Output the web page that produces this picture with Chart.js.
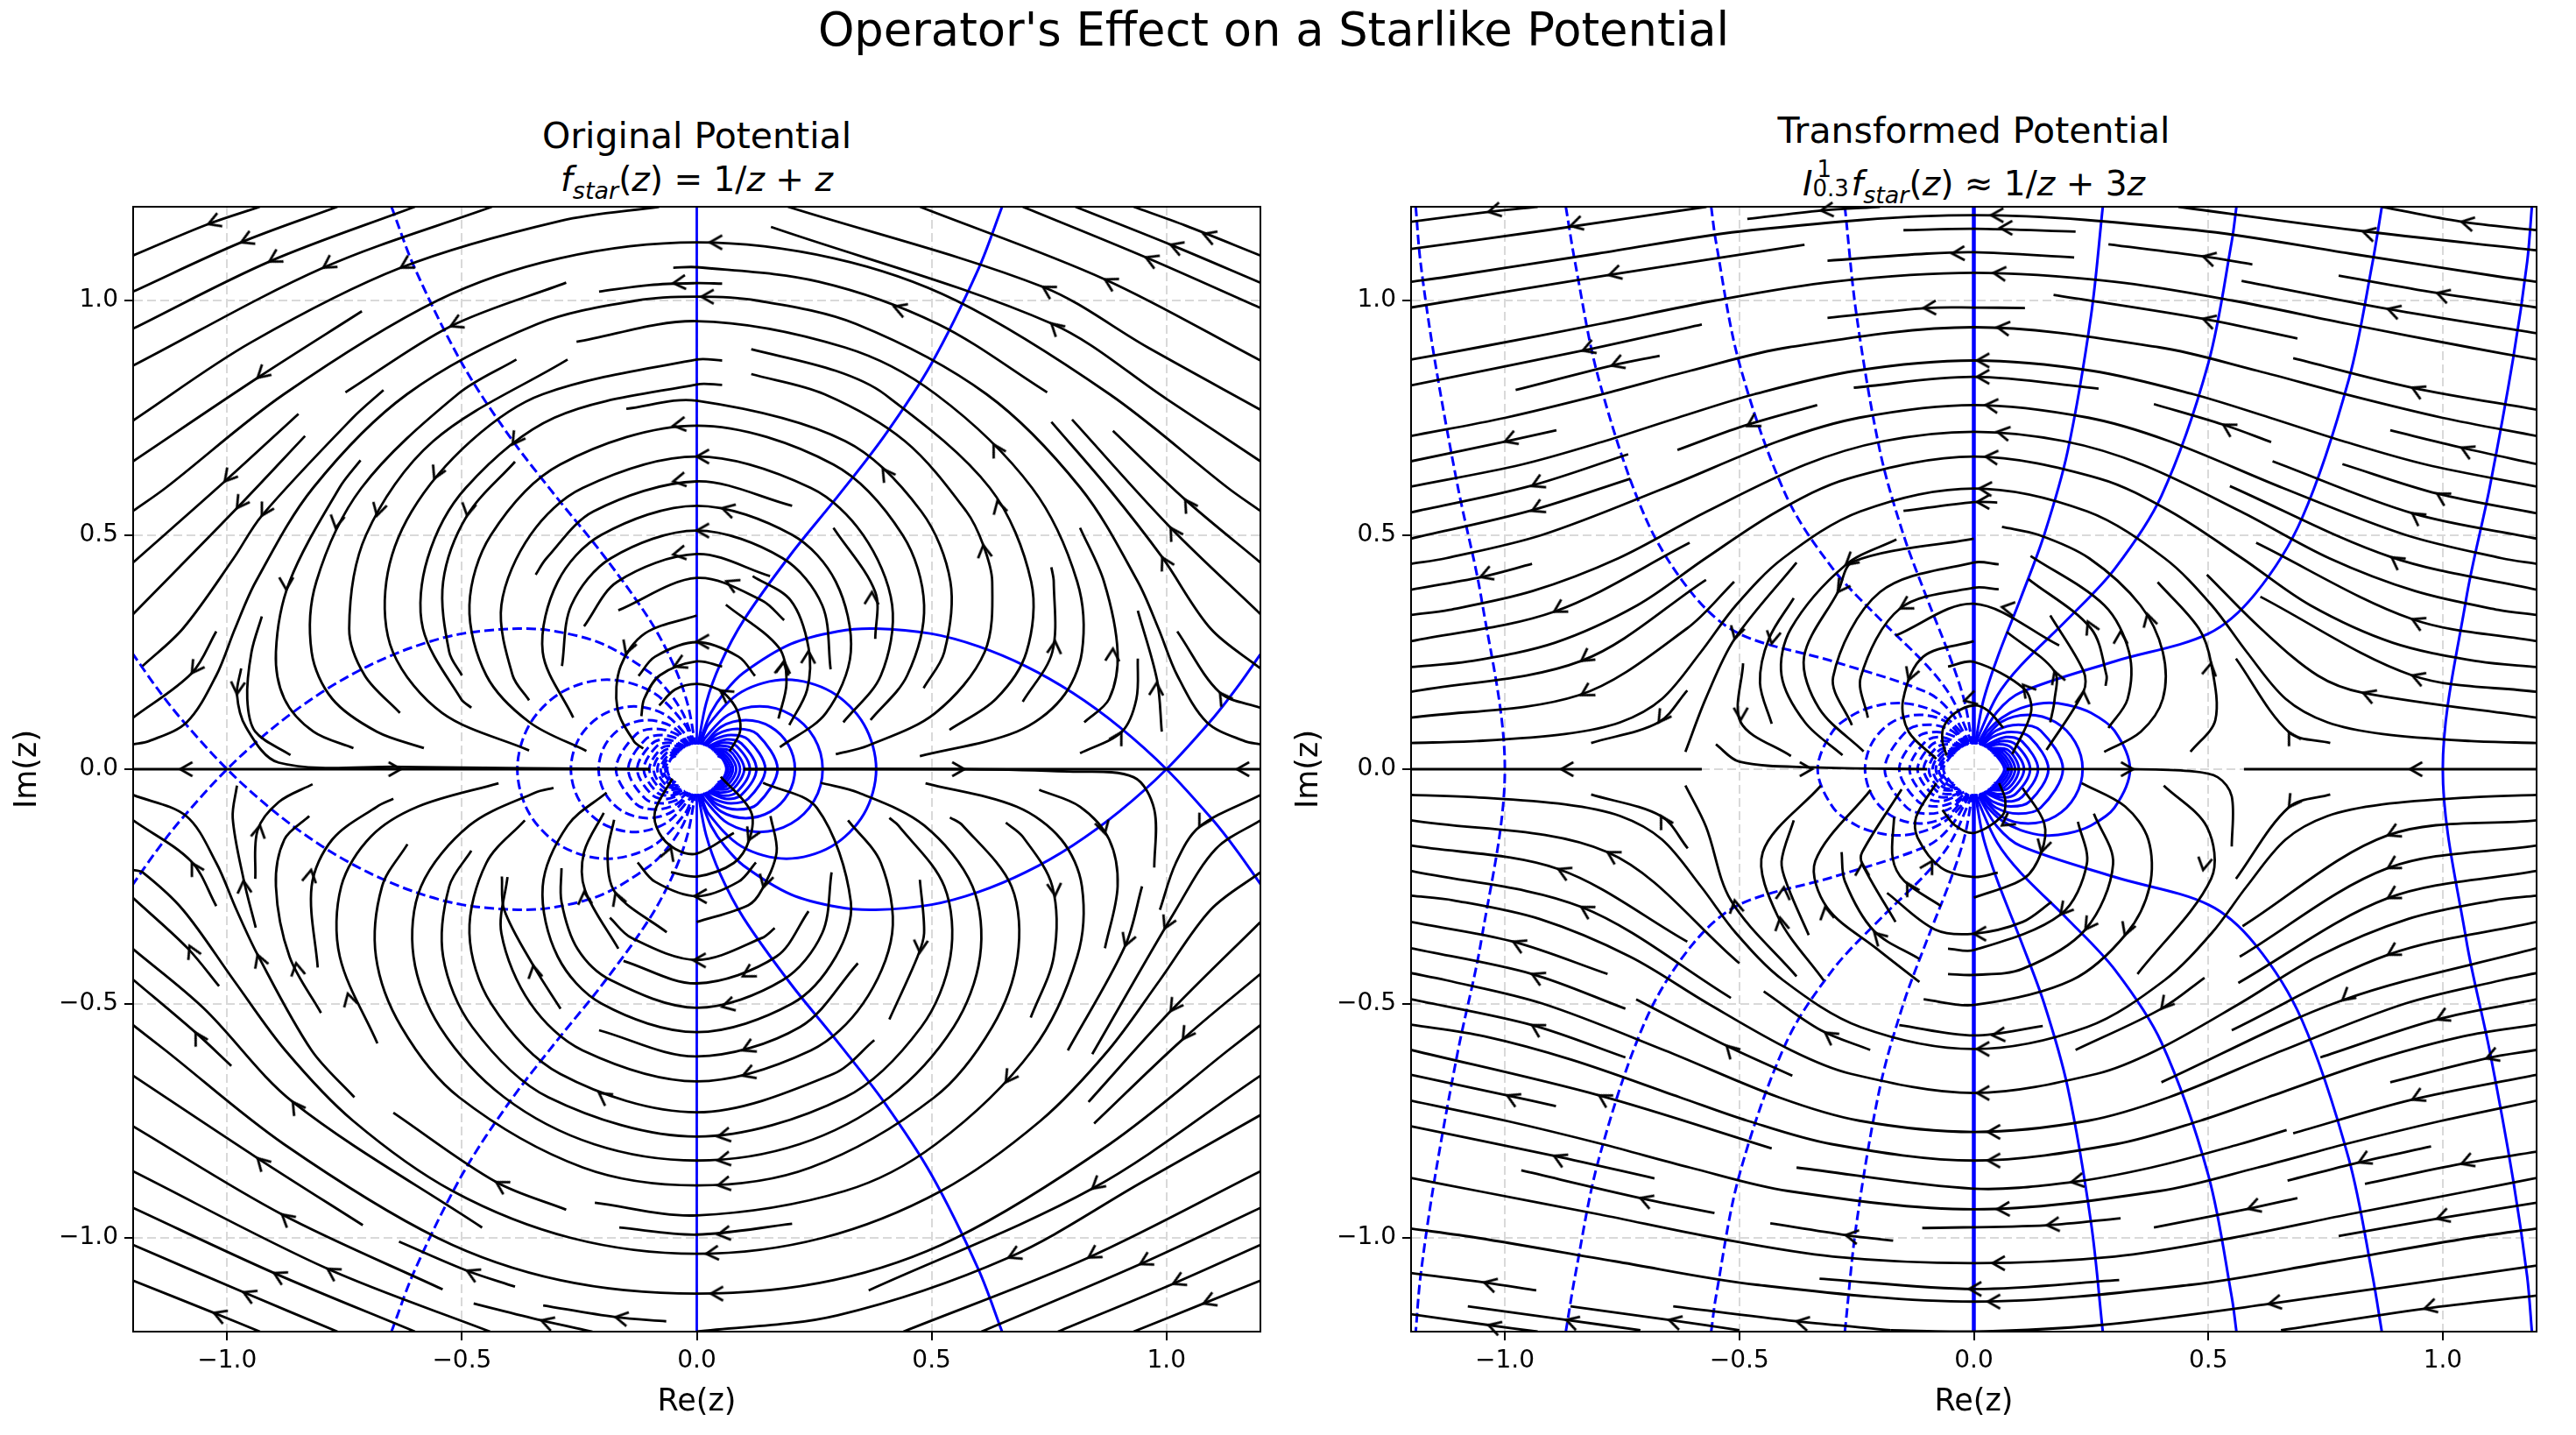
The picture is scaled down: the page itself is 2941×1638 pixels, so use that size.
<!DOCTYPE html>
<html>
<head>
<meta charset="utf-8">
<title>Operator's Effect on a Starlike Potential</title>
<script src="https://cdn.jsdelivr.net/npm/chart.js@4"></script>
<style>
  body { margin: 0; background: #fff; font-family: "DejaVu Sans", sans-serif; color: #000; }
  #page { position: relative; width: 2941px; height: 1638px; overflow: hidden; }
  canvas { position: absolute; top: 0; }
  .title { position: absolute; text-align: center; white-space: nowrap; line-height: 1; }
  #mainTitle { left: 0; width: 2908px; top: 8px; font-size: 52.7px; }
  .sub { font-size: 41px; }
  .math { font-size: 39px; }
  .math i { font-style: italic; }
  .math sub { font-size: 27px; line-height: 0; vertical-align: -9px; font-style: italic; }
  .stack { display: inline-block; position: relative; width: 44px; height: 38px; vertical-align: baseline; }
  .stack b { position: absolute; font-weight: normal; font-size: 26px; line-height: 1; }
</style>
</head>
<body>
<div id="page">
  <div id="mainTitle" class="title">Operator's Effect on a Starlike Potential</div>
  <div class="title sub" style="left:152px;width:1287px;top:135px">Original Potential</div>
  <div class="title math" style="left:152px;width:1287px;top:185px"><i>f<sub>star</sub></i>(<i>z</i>) = 1/<i>z</i> + <i>z</i></div>
  <div class="title sub" style="left:1611px;width:1285px;top:129px">Transformed Potential</div>
  <div class="title math" style="left:1611px;width:1285px;top:185px"><i>I</i><span class="stack"><b style="top:-5px;left:5px">1</b><b style="top:17px;left:0">0.3</b></span><i>f<sub>star</sub></i>(<i>z</i>) ≈ 1/<i>z</i> + 3<i>z</i></div>
  <canvas id="leftPanel" width="1470" height="1638" style="left:0"></canvas>
  <canvas id="rightPanel" width="1471" height="1638" style="left:1470px"></canvas>
</div>
<script>
const tickValues = [-1, -0.5, 0, 0.5, 1];

const leftStreamsUpper = [
  [-1.2,1.096,-1.04,1.163,-.93,1.2],
  [-1.2,1.019,-.97,1.124,-.765,1.2],
  [-1.2,.94,-.91,1.083,-.6,1.2],
  [-1.2,.861,-.795,1.07,-.436,1.2],
  [-1.2,.744,-.95,.91,-.63,1.07,-.29,1.17,-.08,1.2],
  [-1.2,.657,-.935,.835,-.713,.977],
  [-1.2,.551,-1.131,.6,-.879,.8,-.552,1,-.292,1.09,0,1.124,.292,1.09,.552,1,.879,.8,1.131,.6,1.2,.551],
  [-1.2,.441,-1.005,.614,-.848,.758],
  [-1.2,.331,-.979,.557,-.834,.711],
  [-1.18,.22,-1.094,.3,-.986,.45,-.926,.541,-.732,.75,-.667,.809],
  [.755,.741,.876,.6,.991,.452,1.094,.3,1.2,.215],
  [-.208,1.019,-.1,1.033,0,1.037,.054,1.036],
  [-.748,.804,-.524,.945,-.278,1.038],
  [-.05,1.07,0,1.071,.26,1.04,.513,.95,.746,.804],
  [-1.2,.053,-1.166,.06,-1.086,.1,-1.023,.2,-.983,.3,-.939,.4,-.817,.6,-.617,.8,-.339,.95,-.127,1,0,1.008,.127,1,.339,.95,.617,.8,.817,.6,.939,.4,.983,.3,1.023,.2,1.086,.1,1.166,.06,1.2,.053],
  [-1.2,.11,-1.075,.205,-1.023,.294],
  [1.023,.294,1.114,.163,1.2,.131],
  [-.926,.326,-.948,.25,-.957,.15,-.94,.08,-.865,.03],
  [-.716,.659,-.761,.6,-.867,.4,-.896,.25,-.878,.15,-.816,.08,-.731,.045],
  [-.97,.215,-.979,.16,-.96,.09,-.89,.014,-.63,.005,-.1,0],
  [-.384,.874,-.509,.8,-.714,.6,-.81,.4,-.82,.25,-.776,.15,-.681,.08,-.581,.045],
  [-.275,.874,-.561,.7,-.704,.5,-.74,.3,-.707,.2,-.632,.12],
  [-.256,.912,0,.956,.315,.9,.509,.8,.714,.6,.81,.4,.82,.25,.776,.15,.681,.08,.475,.028],
  [.054,.872,0,.874,-.328,.8,-.481,.7,-.607,.55,-.661,.4,-.647,.25,-.542,.12,-.357,.04],
  [.054,.82,0,.821,-.303,.75,-.492,.6,-.573,.45,-.583,.3,-.502,.15,-.48,.131],
  [-.15,.769,0,.786,.316,.7,.478,.55,.54,.4,.527,.25,.483,.173],
  [-.387,.656,-.489,.541,-.54,.4,-.527,.25,-.5,.2],
  [-.235,.039,-.356,.1,-.448,.2,-.484,.35,-.438,.5,-.291,.65,0,.733,.291,.65,.438,.5,.484,.35,.448,.2,.37,.105],
  [-.357,.147,-.392,.2,-.416,.35,-.354,.5,-.243,.6,0,.667,.243,.6,.354,.5,.416,.35,.392,.2,.312,.1],
  [-.343,.415,-.32,.45,-.22,.55,0,.614,.203,.562],
  [.291,.515,.38,.378,.38,.278],
  [-.263,.11,-.328,.25,-.296,.4,-.203,.5,0,.562,.203,.5,.296,.4,.328,.25,.275,.12,.177,.047],
  [-.287,.22,-.267,.35,-.183,.45,0,.509,.183,.45,.267,.35,.285,.213],
  [-.24,.305,-.169,.4,0,.459,.156,.412],
  [.119,.412,.2,.36,.238,.259,.235,.17,.197,.094],
  [-.167,.339,0,.408,.139,.36,.186,.318],
  [0,.328,-.11,.29,-.162,.22,-.169,.13,-.134,.06,-.114,.044],
  [.062,.351,.175,.259,.191,.184,.174,.108],
  [-.124,.199,-.089,.24,0,.271,.089,.24,.124,.199],
  [-.118,.113,-.112,.15,-.079,.2,0,.23,.054,.219],
  [-.08,.136,-.046,.17,0,.182,.046,.17,.07,.15,.088,.12,.092,.08,.07,.038],
  [.93,1.2,1.04,1.16,1.2,1.096],
  [.806,1.2,1.009,1.119,1.2,1.038],
  [.694,1.2,.956,1.092,1.2,.984],
  [.475,1.2,.869,1.045,1.2,.872],
  [.194,1.2,.737,1.029,.96,.9,1.2,.767],
  [.158,1.157,.755,.951,1,.79,1.2,.657],
  [.799,.746,1.009,.515,1.2,.331],
  [.886,.722,1.04,.575,1.2,.441],
  [.116,.843,.272,.8,.443,.7,.574,.55,.61,.478,.629,.4,.613,.25,.508,.12,.364,.05,.296,.032],
  [.116,.896,.296,.85,.4,.8,.624,.6,.712,.4,.702,.25,.637,.15,.538,.084],
  [.755,.431,.76,.4,.757,.25,.694,.144],
  [.816,.515,.867,.4,.896,.25,.878,.15,.825,.1],
  [.939,.236,.936,.15,.905,.08,.816,.034],
  [.939,.338,.98,.19,.99,.08],
  [-1.2,0,-.1,0],
  [.1,0,1.2,0]
];

const leftStreamsLower = [
  [-1.2,-1.091,-1.028,-1.16,-.93,-1.2],
  [-1.2,-1.015,-.965,-1.116,-.765,-1.2],
  [-1.2,-.936,-.9,-1.075,-.6,-1.2],
  [-1.2,-.858,-.786,-1.066,-.44,-1.2],
  [-1.2,-.762,-.883,-.95,-.541,-1.11],
  [-.475,-1.14,-.331,-1.176,-.222,-1.2],
  [-.327,-1.144,-.173,-1.169,-.065,-1.178],
  [-.634,-1.008,-.489,-1.07,-.387,-1.104],
  [-1.2,-.654,-.935,-.83,-.711,-.973],
  [-1.2,-.546,-1.131,-.6,-.879,-.8,-.552,-1,-.292,-1.09,0,-1.119,.292,-1.09,.552,-1,.879,-.8,1.131,-.6,1.2,-.546],
  [-1.2,-.449,-1.067,-.562,-.991,-.633],
  [-1.2,-.384,-1.05,-.51,-.86,-.71,-.457,-.978],
  [-1.2,-.275,-1.084,-.382,-1.017,-.463],
  [-1.2,-.215,-1.18,-.22,-1.094,-.3,-.986,-.45,-.876,-.6,-.732,-.75,-.52,-.9,-.268,-1,0,-1.034,.268,-1,.52,-.9,.732,-.75,.876,-.6,.986,-.45,1.094,-.3,1.2,-.22],
  [-1.2,-.109,-1.076,-.197,-1.023,-.292],
  [-1.2,-.055,-1.087,-.1,-1.023,-.2,-.98,-.3,-.935,-.396,-.82,-.6,-.729,-.7],
  [-.979,-.035,-.988,-.104,-.965,-.234,-.939,-.338],
  [-.94,-.234,-.935,-.13,-.89,-.07,-.818,-.032],
  [-.825,-.1,-.878,-.15,-.896,-.25,-.867,-.4,-.8,-.52],
  [-.646,-.063,-.681,-.08,-.776,-.15,-.82,-.25,-.807,-.423],
  [-.422,-.03,-.594,-.08,-.694,-.144,-.757,-.25,-.76,-.4,-.68,-.585],
  [-.646,-.733,-.427,-.881,-.278,-.94],
  [-.217,-.925,0,-.952,.315,-.9,.509,-.8,.714,-.6,.81,-.4,.82,-.25,.776,-.15,.681,-.08,.487,-.03],
  [-.616,-.16,-.67,-.25,-.683,-.4,-.629,-.55,-.506,-.7,-.242,-.85,0,-.888,.242,-.85,.506,-.7,.629,-.55,.683,-.4,.67,-.25,.566,-.12,.539,-.103],
  [-.305,-.04,-.344,-.05,-.484,-.12,-.587,-.25,-.603,-.4,-.547,-.55,-.41,-.7,-.219,-.8,0,-.835,.219,-.8,.41,-.7,.547,-.55,.603,-.4,.587,-.25,.484,-.12,.344,-.05,.264,-.029],
  [-.48,-.174,-.527,-.25,-.54,-.4,-.478,-.55,-.316,-.7,0,-.784,.316,-.7,.478,-.55,.54,-.4,.527,-.25,.429,-.12,.41,-.104],
  [-.366,-.109,-.448,-.2,-.484,-.35,-.438,-.5,-.291,-.65,0,-.732,.291,-.65,.378,-.578],
  [-.403,-.23,-.416,-.35,-.354,-.5,-.243,-.6,0,-.666,.243,-.6,.354,-.5,.416,-.35,.392,-.2,.322,-.109],
  [.475,-.236,.484,-.35,.47,-.4,.41,-.534],
  [-.208,-.557,0,-.613,.22,-.55,.343,-.414],
  [-.415,-.229,-.41,-.3,-.348,-.419,-.29,-.511],
  [-.192,-.05,-.275,-.12,-.328,-.25,-.296,-.4,-.203,-.5,0,-.561,.203,-.5,.296,-.4,.328,-.283,.256,-.083,.141,-.029],
  [-.288,-.211,-.288,-.283,-.254,-.383,-.183,-.45,0,-.509,.183,-.45,.267,-.35,.287,-.22],
  [-.156,-.409,0,-.457,.169,-.4,.238,-.303],
  [-.198,-.093,-.24,-.177,-.238,-.258,-.167,-.383],
  [-.185,-.317,-.139,-.36,0,-.407,.139,-.36,.166,-.339],
  [-.176,-.108,-.19,-.183,-.173,-.264,-.064,-.348],
  [0,-.326,.11,-.29,.138,-.258,.17,-.177,.157,-.1],
  [-.126,-.199,-.089,-.24,0,-.271,.089,-.24,.126,-.199],
  [-.055,-.22,0,-.229,.079,-.2,.112,-.15,.115,-.09,.051,-.016],
  [-.052,-.02,-.089,-.09,-.08,-.136,-.046,-.17,0,-.18,.079,-.136],
  [1.2,-.055,1.07,-.123,1.02,-.2,.986,-.3],
  [1.2,-.109,1.105,-.17,1.02,-.3,.842,-.608],
  [1.2,-.326,1.009,-.516,.834,-.71],
  [1.2,-.437,1.035,-.576,.846,-.756],
  [1.2,-.654,.842,-.895,.366,-1.112],
  [0,-1.2,.3,-1.165,.664,-1.042,.95,-.88,1.2,-.738],
  [1.2,-.858,.834,-1.042,.44,-1.2],
  [1.2,-.936,.944,-1.056,.606,-1.2],
  [1.2,-1.015,1.014,-1.098,.769,-1.2],
  [1.2,-1.091,1.079,-1.14,.93,-1.2],
  [-.165,-.978,0,-.993,.203,-.97],
  [.658,-.114,.694,-.144,.757,-.25,.76,-.4,.711,-.53],
  [.729,-.044,.816,-.08,.878,-.15,.896,-.25,.869,-.382],
  [.948,-.25,.912,-.377,.79,-.6],
  [.1,0,.57,0,.79,-.005,.93,-.017,.974,-.086,.974,-.21]
];

// x, y, heading in degrees (0 = right, 90 = down)
const leftArrows = [
  -1.04,1.163,159, -.97,1.124,156, -.91,1.083,150, -.795,1.07,147, -.63,1.07,150, -.935,.835,138, -1.005,.614,130,
  -.979,.557,125, -.926,.541,120, -.769,.515,100, -.681,.541,105, -.559,.62,115, -.489,.541,100, -.392,.693,125,
  -.874,.383,90, -.979,.16,95, -1.075,.205,125, -.151,.247,110, -.524,.945,155,
  .028,1.124,180, -.05,1.037,175, .01,1.008,180, -.05,.733,172, 0,.667,180, -.05,.614,170, .054,.557,195, 0,.509,180,
  -.05,.458,170, .063,.401,205, 0,.272,180, -.048,.219,155, .05,.168,215,
  .42,.987,200, .737,1.029,210, .755,.951,222, .869,1.045,208, .956,1.092,203, 1.009,1.119,200, 1.079,1.142,200,
  .632,.693,240, .396,.641,235, .64,.572,255, .61,.478,262, .373,.378,272, 1.04,.575,237, 1.009,.515,238, .991,.452,242,
  .763,.273,275, .886,.257,273, .979,.184,272, .904,.079,300, 1.114,.163,235, .238,.252,272, .186,.231,275, .185,.228,280,
  -1.1,0,180, -.63,0,0, .57,0,0, 1.15,0,180,
  -1.028,-1.16,201, -.965,-1.116,204, -.9,-1.075,207, -.786,-1.066,212, -.489,-1.07,205, -.883,-.95,220, -.935,-.83,225,
  -.86,-.71,235, -.427,-.881,210, -.331,-1.176,198, -.173,-1.169,190, -1.075,-.2,240, -.965,-.238,265, -.93,-.12,280,
  -.821,-.215,280, -1.08,-.377,245, -1.067,-.562,240, -.935,-.396,250, -.853,-.414,260, -.743,-.479,255, -.348,-.419,260,
  -.24,-.262,265, -.173,-.264,250, -.208,-.691,215, -.055,-.168,290,
  .03,-1.119,180, .045,-.993,172, .02,-1.034,175, .045,-.835,170, .045,-.888,170, .045,-.784,170, .098,-.654,160,
  .098,-.6,155, .054,-.507,165, .098,-.442,150, -.007,-.408,180, -.005,-.271,180, .142,-.252,105, .11,-.152,115,
  .475,-.391,95, .763,-.27,85, .869,-.137,75, 1.07,-.123,120, .996,-.34,115, .912,-.377,110, 1.009,-.516,125, 1.035,-.576,125,
  .658,-.668,125, .842,-.895,140, .664,-1.042,155, .834,-1.042,148, .944,-1.056,152, 1.014,-1.098,155, 1.079,-1.14,158
];

const leftSolid = [
  [0,.053,0,1.2],
  [0,-.053,0,-1.2],
  [.65,1.2,.6,1.068,.5,.866,.4,.712,.3,.582,.2,.458,.1,.318,.05,.224,.02,.141,.003,.053],
  [.65,-1.2,.6,-1.068,.5,-.866,.4,-.712,.3,-.582,.2,-.458,.1,-.318,.05,-.224,.02,-.141,.003,-.053],
  [.002,.053,.01,.07,.03,.12,.06,.165,.1,.206,.2,.267,.3,.294,.38,.3,.5,.289,.6,.262,.7,.22,.8,.163,.9,.09,1,0,1.1,-.11,1.15,-.174,1.2,-.245],
  [.002,-.053,.01,-.07,.03,-.12,.06,-.165,.1,-.206,.2,-.267,.3,-.294,.38,-.3,.5,-.289,.6,-.262,.7,-.22,.8,-.163,.9,-.09,1,0,1.1,.11,1.15,.174,1.2,.245],
  [.0074,.0525,.0256,.0955,.0955,.165,.191,.191,.2865,.165,.356,.0955,.382,0,.356,-.0955,.2865,-.165,.191,-.191,.0955,-.165,.0256,-.0955,.0074,-.0525],
  [.0105,.052,.018,.067,.067,.116,.134,.134,.201,.116,.25,.067,.268,0,.25,-.067,.201,-.116,.134,-.134,.067,-.116,.018,-.067,.0105,-.052],
  [.0134,.051,.052,.0905,.1045,.1045,.157,.0905,.195,.052,.209,0,.195,-.052,.157,-.0905,.1045,-.1045,.052,-.0905,.0134,-.051],
  [.0163,.0504,.043,.0745,.086,.086,.129,.0745,.172,0,.129,-.0745,.086,-.086,.043,-.0745,.0163,-.0504],
  [.0192,.0494,.0365,.0632,.073,.073,.1095,.0632,.146,0,.1095,-.0632,.073,-.073,.0365,-.0632,.0192,-.0494],
  [.0221,.0482,.0635,.0635,.095,.055,.127,0,.095,-.055,.0635,-.0635,.0221,-.0482],
  [.0249,.0468,.0565,.0565,.085,.049,.113,0,.085,-.049,.0565,-.0565,.0249,-.0468],
  [.0278,.0451,.05,.05,.076,.044,.101,0,.076,-.044,.05,-.05,.0278,-.0451],
  [.0305,.0433,.069,.04,.092,0,.069,-.04,.0305,-.0433],
  [.0334,.0411,.063,.036,.084,0,.063,-.036,.0334,-.0411],
  [.0365,.0384,.058,.033,.077,0,.058,-.033,.0365,-.0384],
  [.039,.0359,.054,.031,.072,0,.054,-.031,.039,-.0359],
  [.0419,.0324,.05,.029,.067,0,.05,-.029,.0419,-.0324],
  [.0446,.0286,.0545,.0225,.063,0,.0545,-.0225,.0446,-.0286]
];

const leftDashed = [
  [-.65,1.2,-.6,1.068,-.5,.866,-.4,.712,-.3,.582,-.2,.458,-.1,.318,-.05,.224,-.02,.141,-.003,.053],
  [-.65,-1.2,-.6,-1.068,-.5,-.866,-.4,-.712,-.3,-.582,-.2,-.458,-.1,-.318,-.05,-.224,-.02,-.141,-.003,-.053],
  [-.002,.053,-.01,.07,-.03,.12,-.06,.165,-.1,.206,-.2,.267,-.3,.294,-.38,.3,-.5,.289,-.6,.262,-.7,.22,-.8,.163,-.9,.09,-1,0,-1.1,-.11,-1.15,-.174,-1.2,-.245],
  [-.002,-.053,-.01,-.07,-.03,-.12,-.06,-.165,-.1,-.206,-.2,-.267,-.3,-.294,-.38,-.3,-.5,-.289,-.6,-.262,-.7,-.22,-.8,-.163,-.9,-.09,-1,0,-1.1,.11,-1.15,.174,-1.2,.245],
  [-.0074,.0525,-.0256,.0955,-.0955,.165,-.191,.191,-.2865,.165,-.356,.0955,-.382,0,-.356,-.0955,-.2865,-.165,-.191,-.191,-.0955,-.165,-.0256,-.0955,-.0074,-.0525],
  [-.0105,.052,-.018,.067,-.067,.116,-.134,.134,-.201,.116,-.25,.067,-.268,0,-.25,-.067,-.201,-.116,-.134,-.134,-.067,-.116,-.018,-.067,-.0105,-.052],
  [-.0134,.051,-.052,.0905,-.1045,.1045,-.157,.0905,-.195,.052,-.209,0,-.195,-.052,-.157,-.0905,-.1045,-.1045,-.052,-.0905,-.0134,-.051],
  [-.0163,.0504,-.043,.0745,-.086,.086,-.129,.0745,-.172,0,-.129,-.0745,-.086,-.086,-.043,-.0745,-.0163,-.0504],
  [-.0192,.0494,-.0365,.0632,-.073,.073,-.1095,.0632,-.146,0,-.1095,-.0632,-.073,-.073,-.0365,-.0632,-.0192,-.0494],
  [-.0221,.0482,-.0635,.0635,-.095,.055,-.127,0,-.095,-.055,-.0635,-.0635,-.0221,-.0482],
  [-.0249,.0468,-.0565,.0565,-.085,.049,-.113,0,-.085,-.049,-.0565,-.0565,-.0249,-.0468],
  [-.0278,.0451,-.05,.05,-.076,.044,-.101,0,-.076,-.044,-.05,-.05,-.0278,-.0451],
  [-.0305,.0433,-.069,.04,-.092,0,-.069,-.04,-.0305,-.0433],
  [-.0334,.0411,-.063,.036,-.084,0,-.063,-.036,-.0334,-.0411],
  [-.0365,.0384,-.058,.033,-.077,0,-.058,-.033,-.0365,-.0384],
  [-.039,.0359,-.054,.031,-.072,0,-.054,-.031,-.039,-.0359],
  [-.0419,.0324,-.05,.029,-.067,0,-.05,-.029,-.0419,-.0324],
  [-.0446,.0286,-.0545,.0225,-.063,0,-.0545,-.0225,-.0446,-.0286]
];

const rightStreamsUpper = [
  [-1.2,1.168,-1.035,1.189,-.93,1.2],
  [-1.2,1.11,-.91,1.15,-.57,1.2],
  [-1.2,1.04,-1.126,1.05,-.803,1.1,-.475,1.15,0,1.182,.475,1.15,.803,1.1,1.126,1.05,1.2,1.04],
  [-.483,1.174,-.326,1.192,-.2,1.2],
  [.436,1.2,.813,1.15,1.2,1.107],
  [.87,1.2,1.04,1.168,1.2,1.15],
  [-.15,1.15,0,1.153,.217,1.147],
  [-.312,1.085,-.1,1.1,0,1.103,.214,1.092],
  [.287,1.12,.489,1.094,.594,1.077],
  [.17,1.012,.489,.961,.69,.919],
  [.778,1.053,.988,1.016,1.2,.985],
  [.571,1.042,.883,.982,1.2,.93],
  [-1.2,.985,-.781,1.054,-.361,1.119],
  [-1.2,.874,-1.057,.9,-.798,.95,-.551,1,-.3,1.04,0,1.059,.3,1.04,.551,1,.798,.95,1.057,.9,1.2,.874],
  [-1.2,.819,-.834,.893,-.58,.949],
  [-.977,.809,-.772,.861,-.67,.882],
  [-.312,.963,-.1,.984,0,.985,.109,.984],
  [-1.2,.711,-.998,.75,-.792,.8,-.605,.85,-.396,.9,0,.943,.396,.9,.605,.85,.792,.8,.998,.75,1.2,.711],
  [.681,.877,.935,.814,1.2,.767],
  [-1.2,.657,-1,.699,-.89,.723],
  [-1.2,.603,-.964,.65,-.787,.7,-.631,.75,-.468,.8,-.252,.85,0,.872,.252,.85,.468,.8,.631,.75,.787,.7,.964,.65,1.2,.603],
  [-.256,.814,0,.837,.266,.812],
  [-.632,.681,-.492,.732,-.334,.777],
  [-1.2,.548,-.947,.604,-.737,.672],
  [.384,.779,.532,.735,.634,.698],
  [.888,.723,1.04,.686,1.2,.651],
  [.786,.651,.988,.588,1.2,.546],
  [-1.2,.492,-.947,.551,-.732,.62],
  [-1.2,.438,-1.126,.45,-.92,.5,-.659,.6,-.416,.7,-.244,.75,0,.777,.244,.75,.416,.7,.659,.6,.92,.5,1.126,.45,1.2,.438],
  [-1.2,.383,-1.05,.41,-.942,.438],
  [-1.2,.329,-1.118,.34,-.941,.38,-.758,.45,-.569,.55,-.359,.65,-.192,.7,0,.72,.192,.7,.359,.65,.569,.55,.758,.45,.941,.38,1.118,.34,1.2,.329],
  [-1.2,.273,-.895,.336,-.606,.483],
  [-1.2,.218,-1.076,.23,-.893,.27,-.717,.35,-.572,.45,-.419,.55,-.268,.62,0,.667,.268,.62,.419,.55,.572,.45,.717,.35,.893,.27,1.076,.23,1.2,.218],
  [-1.2,.165,-.837,.231,-.571,.404],
  [-1.2,.11,-.842,.158,-.612,.3,-.511,.4],
  [-1.2,.056,-1.06,.06,-.872,.075,-.754,.1,-.665,.15,-.582,.25,-.507,.35,-.407,.45,-.242,.55,0,.599,.242,.55,.407,.45,.507,.35,.582,.25,.665,.15,.754,.1,.872,.075,1.06,.06,1.2,.056],
  [-.816,.056,-.672,.1,-.611,.168],
  [-.378,.441,-.51,.278,-.571,.152,-.615,.037],
  [-.492,.226,-.497,.1,-.39,.028],
  [-.55,.053,-.5,.016,-.343,.004,-.1,0],
  [-.384,.365,-.437,.278,-.456,.184,-.431,.097],
  [-.165,.49,-.273,.436,-.39,.3,-.41,.2,-.36,.1,-.28,.03],
  [-.15,.551,0,.57,.05,.569],
  [0,.492,-.257,.443,-.29,.378,-.362,.24,-.33,.13,-.235,.038],
  [.053,.437,0,.441,-.2,.378,-.3,.197,-.26,.094],
  [.053,.384,0,.387,-.157,.343,-.241,.197,-.226,.11],
  [-.167,.285,0,.353,.182,.264],
  [0,.273,-.108,.24,-.151,.147,-.139,.08,-.08,.022],
  [-.055,.219,0,.229,.107,.172,.122,.122,.082,.032],
  [.063,.088,.03,.125,0,.136,-.04,.12,-.064,.091,-.067,.06,-.058,.029],
  [.06,.517,.138,.5,.246,.45,.355,.35,.403,.25,.403,.15,.356,.08,.278,.037],
  [.121,.455,.278,.35,.331,.25,.328,.15,.287,.088],
  [.116,.406,.25,.3,.283,.2,.281,.178],
  [.163,.328,.234,.209,.234,.166,.155,.041],
  [.07,.293,.172,.209,.172,.147,.163,.1],
  [.392,.399,.48,.3,.506,.226,.515,.105,.462,.037],
  [.637,.657,.935,.546,1.2,.492],
  [.546,.604,.891,.452,1.2,.383],
  [.602,.483,.935,.32,1.2,.273],
  [.611,.368,.935,.2,1.2,.165],
  [.497,.415,.612,.3,.733,.2,.83,.163,1.2,.11],
  [.559,.236,.672,.079,.76,.056],
  [.07,0,.34,0,.46,-.004,.52,-.017,.55,-.058,.55,-.165],
  [-1.2,0,-.58,0],
  [.576,0,1.2,0]
];

const rightStreamsLower = [
  [-1.2,-1.163,-1.035,-1.186,-.93,-1.2],
  [-1.079,-1.146,-.869,-1.175,-.711,-1.197],
  [-.86,-1.146,-.65,-1.175,-.5,-1.197],
  [-.641,-1.146,-.378,-1.178,-.177,-1.197],
  [-1.2,-1.075,-1.044,-1.095,-.933,-1.112],
  [-1.2,-.98,-1.058,-1,-.765,-1.05,-.464,-1.1,0,-1.136,.464,-1.1,.765,-1.05,1.058,-1,1.2,-.98],
  [-.329,-1.087,0,-1.109,.31,-1.09],
  [-1.2,-.872,-1.057,-.9,-.798,-.95,-.551,-1,-.3,-1.04,0,-1.054,.3,-1.04,.551,-1,.798,-.95,1.057,-.9,1.2,-.872],
  [-.434,-.969,-.273,-.994,-.172,-1.006],
  [-.11,-.979,.156,-.973,.313,-.958],
  [-1.2,-.707,-.998,-.75,-.792,-.8,-.605,-.85,-.396,-.9,0,-.939,.396,-.9,.605,-.85,.792,-.8,.998,-.75,1.2,-.707],
  [-1.2,-.762,-.895,-.825,-.681,-.873],
  [-.378,-.85,0,-.895,.208,-.881,.378,-.85,.567,-.8,.667,-.77],
  [-.965,-.856,-.711,-.915,-.553,-.947],
  [-1.2,-.599,-.799,-.696,-.431,-.809],
  [-1.2,-.652,-.995,-.696,-.891,-.719],
  [-1.2,-.545,-1.044,-.57,-.858,-.62,-.627,-.7,-.483,-.75,-.303,-.8,0,-.835,.303,-.8,.483,-.75,.627,-.7,.858,-.62,1.044,-.57,1.2,-.545],
  [-1.2,-.491,-.942,-.546,-.743,-.615],
  [-1.2,-.435,-1.126,-.45,-.92,-.5,-.659,-.6,-.416,-.7,-.244,-.75,0,-.774,.244,-.75,.416,-.7,.659,-.6,.92,-.5,1.126,-.45,1.2,-.435],
  [-1.2,-.382,-.942,-.437,-.743,-.511],
  [-1.2,-.326,-.982,-.368,-.781,-.437],
  [-.72,-.491,-.527,-.59,-.387,-.654],
  [-1.2,-.27,-1.109,-.28,-.925,-.32,-.733,-.4,-.567,-.5,-.389,-.6,-.262,-.65,0,-.691,.262,-.65,.389,-.6,.567,-.5,.733,-.4,.925,-.32,1.109,-.28,1.2,-.27],
  [-1.2,-.217,-.837,-.294,-.518,-.488],
  [-1.2,-.163,-.886,-.213,-.611,-.368],
  [-1.2,-.109,-.781,-.177,-.5,-.414],
  [-.816,-.054,-.667,-.1,-.61,-.169],
  [-1.2,-.055,-1.06,-.06,-.872,-.075,-.754,-.1,-.665,-.15,-.582,-.25,-.507,-.35,-.407,-.45,-.242,-.55,0,-.597,.242,-.55,.407,-.45,.507,-.35,.582,-.25,.665,-.15,.754,-.1,.872,-.075,1.06,-.06,1.2,-.055],
  [-.615,-.035,-.571,-.123,-.518,-.28,-.378,-.442],
  [-.448,-.474,-.326,-.557,-.221,-.599],
  [-.159,-.546,0,-.568,.147,-.548],
  [.492,-.445,.4,-.511,.217,-.599],
  [-.107,-.491,0,-.503,.209,-.45,.326,-.35,.375,-.25,.372,-.15,.323,-.08,.23,-.03],
  [-.384,-.109,-.41,-.197,-.396,-.252,-.352,-.354],
  [-.326,-.035,-.45,-.177,-.418,-.314,-.32,-.451],
  [-.22,-.044,-.338,-.196,-.313,-.295,-.207,-.383,-.116,-.454],
  [-.282,-.177,-.275,-.239,-.213,-.345,-.116,-.405],
  [-.055,-.437,0,-.439,.104,-.426,.238,-.342,.297,-.202,.256,-.095],
  [-.185,-.264,-.083,-.342,0,-.351,.104,-.326,.166,-.283],
  [-.055,-.383,0,-.386,.185,-.31,.241,-.202,.222,-.112],
  [0,-.274,.107,-.233,.144,-.177,.15,-.115,.104,-.04],
  [.051,-.221,0,-.23,-.07,-.21,-.12,-.146,-.123,-.102,-.08,-.03],
  [-.067,-.087,-.04,-.12,0,-.136,.06,-.1,.067,-.065,.054,-.03],
  [-.17,-.102,-.173,-.19,-.148,-.239,-.07,-.292],
  [-.154,-.043,-.238,-.177,-.238,-.202,-.167,-.326],
  [.655,-1.197,.961,-1.151,1.2,-1.123],
  [-.177,-1.197,0,-1.2,.27,-1.186,.629,-1.141,1.2,-1.059],
  [.778,-.996,.988,-.959,1.2,-.925],
  [.384,-.978,.585,-.938,.69,-.915],
  [.834,-.885,1.04,-.842,1.2,-.816],
  [.669,-.878,.821,-.839,.975,-.805],
  [.681,-.777,.935,-.705,1.2,-.652],
  [.888,-.668,1.093,-.617,1.2,-.599],
  [.739,-.615,.988,-.534,1.2,-.491],
  [.4,-.668,.786,-.493,1.2,-.382],
  [.55,-.557,.883,-.396,1.2,-.326],
  [.564,-.456,.883,-.275,1.2,-.217],
  [.567,-.4,.883,-.211,1.2,-.163],
  [.573,-.335,.883,-.141,1.2,-.109],
  [.559,-.234,.672,-.081,.76,-.054],
  [.405,-.035,.497,-.123,.506,-.234,.349,-.437]
];

const rightArrows = [
  -1.035,1.189,168, -.86,1.159,165, -.778,1.054,165, -.326,1.192,175, -.834,.893,160, -.772,.861,160, -.483,.732,150,
  -1,.699,160, -.942,.604,155, -.942,.551,155, -1.052,.41,160, -.895,.336,150, -.837,.231,145, -.837,.158,150, -.672,.1,125,
  -.51,.278,105, -.497,.105,90, -.431,.268,100, -.273,.436,140, -.29,.378,125, -.157,.343,150, -.139,.19,110, -.02,.146,165,
  .037,1.182,180, .056,1.155,180, -.046,1.1,178, .042,1.059,185, -.107,.984,178, .05,.943,187, .007,.872,180, .007,.837,180,
  .025,.777,185, .05,.72,190, .025,.667,185, .012,.599,183, .007,.57,180, .06,.346,190,
  .489,1.094,195, .83,1.147,195, 1.04,1.168,192, .988,1.016,197, .883,.982,197, .489,.961,197, .935,.814,205, .532,.735,210,
  1.04,.686,205, .988,.588,210, .935,.546,215, .891,.452,215, .935,.32,205, .935,.2,200, .83,.163,200, .672,.079,240,
  .506,.226,280, .37,.331,255, .313,.294,270, .243,.315,245, .105,.18,230, .234,.166,275, .172,.209,250,
  -.88,0,180, -.345,0,0, .34,0,0, .93,0,180,
  -1.035,-1.186,197, -.869,-1.175,197, -.65,-1.175,195, -.378,-1.178,192, -1.044,-1.095,195, -.273,-.994,190, -.711,-.915,200,
  -.895,-.825,205, -.995,-.696,205, -.799,-.696,210, -.527,-.59,225, -.942,-.546,210, -.942,-.437,205, -.982,-.368,205,
  -.837,-.294,210, -.886,-.213,205, -.781,-.177,210, -.667,-.1,240, -.51,-.28,260, -.405,-.252,275, -.413,-.317,260,
  -.317,-.294,260, -.238,-.201,270, -.142,-.243,240, -.212,-.349,225, -.317,-.562,215, -.089,-.196,300,
  .03,-1.136,180, -.01,-1.109,180, .04,-1.054,180, .156,-.973,175, .05,-.939,178, .208,-.881,170, .03,-.835,180, .03,-.774,180,
  .007,-.691,180, .007,-.597,180, .04,-.568,175, 0,-.351,180,
  .961,-1.151,165, .629,-1.141,170, .988,-.959,163, .585,-.938,162, 1.04,-.842,160, .821,-.839,155, .935,-.705,155, 1.093,-.617,160,
  .988,-.534,155, .786,-.493,140, .883,-.396,150, .883,-.275,150, .883,-.211,150, .883,-.141,155, .672,-.081,125, .489,-.215,100,
  .4,-.511,130, .322,-.354,110, .238,-.342,125, .185,-.31,130, .144,-.177,105, .06,-.12,145
];

const rightSolid = [
  [0,.053,0,1.2],
  [0,-.053,0,-1.2],
  [.275,1.2,.25,.968,.2,.678,.15,.5,.1,.365,.05,.237,.02,.145,.003,.053],
  [.275,-1.2,.25,-.968,.2,-.678,.15,-.5,.1,-.365,.05,-.237,.02,-.145,.003,-.053],
  [.56,1.2,.55,1.126,.5,.866,.4,.583,.3,.427,.2,.32,.1,.221,.05,.157,.01,.07,.005,.053],
  [.56,-1.2,.55,-1.126,.5,-.866,.4,-.583,.3,-.427,.2,-.32,.1,-.221,.05,-.157,.01,-.07,.005,-.053],
  [.87,1.2,.85,1.08,.8,.833,.7,.536,.6,.374,.5,.289,.3,.23,.1,.164,.05,.123,.01,.058],
  [.87,-1.2,.85,-1.08,.8,-.833,.7,-.536,.6,-.374,.5,-.289,.3,-.23,.1,-.164,.05,-.123,.01,-.058],
  [1.19,1.2,1.18,1.083,1.15,.876,1.1,.601,1.05,.364,1,0,1.05,-.364,1.1,-.601,1.15,-.876,1.18,-1.083,1.19,-1.2],
  [.011,.053,.03,.082,.06,.11,.1,.13,.15,.141,.2,.137,.25,.12,.3,.082,.333,0,.3,-.082,.25,-.12,.2,-.137,.15,-.141,.1,-.13,.06,-.11,.03,-.082,.011,-.053],
  [.0121,.0514,.058,.1005,.116,.116,.174,.1005,.216,.058,.232,0,.216,-.058,.174,-.1005,.116,-.116,.058,-.1005,.0121,-.0514],
  [.0148,.0509,.0475,.0823,.095,.095,.1425,.0823,.19,0,.1425,-.0823,.095,-.095,.0475,-.0823,.0148,-.0509],
  [.0177,.05,.04,.069,.0795,.0795,.119,.069,.159,0,.119,-.069,.0795,-.0795,.04,-.069,.0177,-.05],
  [.0205,.0489,.0685,.0685,.103,.059,.137,0,.103,-.059,.0685,-.0685,.0205,-.0489],
  [.0234,.0476,.06,.06,.09,.052,.12,0,.09,-.052,.06,-.06,.0234,-.0476],
  [.0263,.046,.0535,.0535,.08,.046,.107,0,.08,-.046,.0535,-.0535,.0263,-.046],
  [.0293,.0442,.072,.0416,.096,0,.072,-.0416,.0293,-.0442],
  [.0319,.0423,.066,.038,.088,0,.066,-.038,.0319,-.0423],
  [.0347,.04,.061,.035,.081,0,.061,-.035,.0347,-.04],
  [.0375,.0375,.056,.0325,.075,0,.056,-.0325,.0375,-.0375],
  [.0401,.0346,.0525,.03,.07,0,.0525,-.03,.0401,-.0346],
  [.0432,.0307,.049,.028,.065,0,.049,-.028,.0432,-.0307]
];

const rightDashed = [
  [-.275,1.2,-.25,.968,-.2,.678,-.15,.5,-.1,.365,-.05,.237,-.02,.145,-.003,.053],
  [-.275,-1.2,-.25,-.968,-.2,-.678,-.15,-.5,-.1,-.365,-.05,-.237,-.02,-.145,-.003,-.053],
  [-.56,1.2,-.55,1.126,-.5,.866,-.4,.583,-.3,.427,-.2,.32,-.1,.221,-.05,.157,-.01,.07,-.005,.053],
  [-.56,-1.2,-.55,-1.126,-.5,-.866,-.4,-.583,-.3,-.427,-.2,-.32,-.1,-.221,-.05,-.157,-.01,-.07,-.005,-.053],
  [-.87,1.2,-.85,1.08,-.8,.833,-.7,.536,-.6,.374,-.5,.289,-.3,.23,-.1,.164,-.05,.123,-.01,.058],
  [-.87,-1.2,-.85,-1.08,-.8,-.833,-.7,-.536,-.6,-.374,-.5,-.289,-.3,-.23,-.1,-.164,-.05,-.123,-.01,-.058],
  [-1.19,1.2,-1.18,1.083,-1.15,.876,-1.1,.601,-1.05,.364,-1,0,-1.05,-.364,-1.1,-.601,-1.15,-.876,-1.18,-1.083,-1.19,-1.2],
  [-.011,.053,-.03,.082,-.06,.11,-.1,.13,-.15,.141,-.2,.137,-.25,.12,-.3,.082,-.333,0,-.3,-.082,-.25,-.12,-.2,-.137,-.15,-.141,-.1,-.13,-.06,-.11,-.03,-.082,-.011,-.053],
  [-.0121,.0514,-.058,.1005,-.116,.116,-.174,.1005,-.216,.058,-.232,0,-.216,-.058,-.174,-.1005,-.116,-.116,-.058,-.1005,-.0121,-.0514],
  [-.0148,.0509,-.0475,.0823,-.095,.095,-.1425,.0823,-.19,0,-.1425,-.0823,-.095,-.095,-.0475,-.0823,-.0148,-.0509],
  [-.0177,.05,-.04,.069,-.0795,.0795,-.119,.069,-.159,0,-.119,-.069,-.0795,-.0795,-.04,-.069,-.0177,-.05],
  [-.0205,.0489,-.0685,.0685,-.103,.059,-.137,0,-.103,-.059,-.0685,-.0685,-.0205,-.0489],
  [-.0234,.0476,-.06,.06,-.09,.052,-.12,0,-.09,-.052,-.06,-.06,-.0234,-.0476],
  [-.0263,.046,-.0535,.0535,-.08,.046,-.107,0,-.08,-.046,-.0535,-.0535,-.0263,-.046],
  [-.0293,.0442,-.072,.0416,-.096,0,-.072,-.0416,-.0293,-.0442],
  [-.0319,.0423,-.066,.038,-.088,0,-.066,-.038,-.0319,-.0423],
  [-.0347,.04,-.061,.035,-.081,0,-.061,-.035,-.0347,-.04],
  [-.0375,.0375,-.056,.0325,-.075,0,-.056,-.0325,-.0375,-.0375],
  [-.0401,.0346,-.0525,.03,-.07,0,-.0525,-.03,-.0401,-.0346],
  [-.0432,.0307,-.049,.028,-.065,0,-.049,-.028,-.0432,-.0307]
];

// open arrow head, the tip sits on the middle of the sprite
const arrowHead = document.createElement("canvas");
arrowHead.width = 36;
arrowHead.height = 36;
const headCtx = arrowHead.getContext("2d");
headCtx.strokeStyle = "#000";
headCtx.lineWidth = 2.8;
headCtx.beginPath();
headCtx.moveTo(4, 10);
headCtx.lineTo(18, 18);
headCtx.lineTo(4, 26);
headCtx.stroke();

function toPoints(flat) {
  const pts = [];
  for (let i = 0; i < flat.length; i += 2) pts.push({ x: flat[i], y: flat[i + 1] });
  return pts;
}

function lineDataset(flat, color, width, dash, order) {
  return {
    data: toPoints(flat),
    showLine: true,
    borderColor: color,
    borderWidth: width,
    borderDash: dash,
    tension: 0.33,
    pointRadius: 0,
    order: order,
  };
}

// axes frame, Chart.js only has the left and bottom borders
const frame = {
  id: "frame",
  afterDraw(chart) {
    const a = chart.chartArea;
    const ctx = chart.ctx;
    ctx.save();
    ctx.strokeStyle = "#000";
    ctx.lineWidth = 2;
    ctx.strokeRect(a.left, a.top, a.right - a.left, a.bottom - a.top);
    ctx.restore();
  },
};

function axis(title, fitKey, fitSize) {
  return {
    type: "linear",
    min: -1.2,
    max: 1.2,
    title: { display: true, text: title, color: "#000", font: { family: "DejaVu Sans", size: 35 }, padding: { top: 4, bottom: 4 } },
    ticks: {
      color: "#000",
      padding: 7,
      maxRotation: 0,
      font: { family: "DejaVu Sans", size: 28 },
      callback: (v) => v.toFixed(1).replace("-", "\u2212"),
    },
    grid: { color: "#d9d9d9", lineWidth: 2, tickColor: "#000", tickWidth: 2, tickLength: 10, tickBorderDash: [] },
    border: { display: true, color: "#000", width: 2, dash: [10, 5] },
    afterBuildTicks: (s) => { s.ticks = tickValues.map((v) => ({ value: v })); },
    afterFit: (s) => { s[fitKey] = fitSize; },
  };
}

function drawPanel(id, streams, solid, dashed, arrows, yWidth, paddingLeft, paddingRight, zeroWidth) {
  const datasets = [];
  solid.forEach((l, i) => datasets.push(lineDataset(l, "#0000ff", i < 2 ? zeroWidth : 3, [], 3)));
  dashed.forEach((l) => datasets.push(lineDataset(l, "#0000ff", 3, [11, 5], 3)));
  streams.forEach((l) => datasets.push(lineDataset(l, "#000", 2.8, [], 2)));

  const heads = [];
  const angles = [];
  for (let i = 0; i < arrows.length; i += 3) {
    heads.push({ x: arrows[i], y: arrows[i + 1] });
    angles.push(arrows[i + 2]);
  }
  datasets.push({
    data: heads,
    showLine: false,
    pointStyle: arrowHead,
    pointRadius: 6,
    pointRotation: angles,
    clip: false,
    order: 1,
  });

  new Chart(document.getElementById(id), {
    type: "scatter",
    data: { datasets },
    plugins: [frame],
    options: {
      responsive: false,
      animation: false,
      events: [],
      layout: { padding: { top: 236, right: paddingRight, left: paddingLeft, bottom: 12 } },
      plugins: { legend: { display: false }, tooltip: { enabled: false } },
      scales: {
        x: axis("Re(z)", "height", 106),
        y: axis("Im(z)", "width", yWidth),
      },
    },
  });
}

drawPanel("leftPanel", leftStreamsUpper.concat(leftStreamsLower), leftSolid, leftDashed, leftArrows, 145, 7, 31, 2.8);
drawPanel("rightPanel", rightStreamsUpper.concat(rightStreamsLower), rightSolid, rightDashed, rightArrows, 141, 0, 45, 4.5);
</script>
</body>
</html>
